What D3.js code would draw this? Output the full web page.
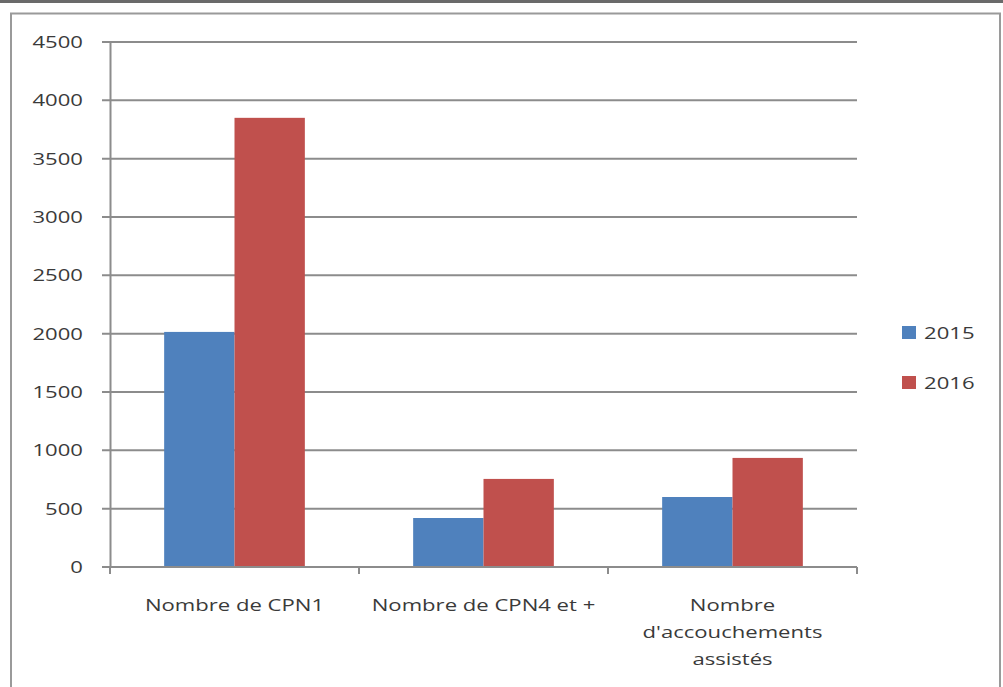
<!DOCTYPE html>
<html><head><meta charset="utf-8">
<script src="https://cdn.jsdelivr.net/npm/d3@7"></script>
<style>body{margin:0;background:#fff}svg{display:block}</style>
</head><body>
<svg id="c" width="1003" height="687"></svg>
<script>
const categories = [["Nombre de CPN1"], ["Nombre de CPN4 et +"], ["Nombre", "d'accouchements", "assistés"]];
const seriesNames = ["2015", "2016"];
const values2015 = [2015, 420, 600];
const values2016 = [3850, 755, 935];
const yTicks = [0, 500, 1000, 1500, 2000, 2500, 3000, 3500, 4000, 4500];

(function () {
const colors = ["#4F81BD", "#C0504D"];
const svg = d3.select("#c");
const font = "'Open Sans', 'DejaVu Sans', sans-serif";
const fs = 17, sx = 1.3, txt = "#3a3a3a";

// frame
svg.append("rect").attr("x",0).attr("y",0).attr("width",1003).attr("height",3).attr("fill","#6a6a6a");
svg.append("rect").attr("x",11).attr("y",13.5).attr("width",989).attr("height",690)
  .attr("fill","none").attr("stroke","#9a9a9a").attr("stroke-width",2);

const pl = 110, pr = 857, pt = 42, pb = 567;
const x = d3.scaleBand().domain(d3.range(categories.length)).range([pl, pr]).paddingInner(0.435).paddingOuter(0.2175);
const y = d3.scaleLinear().domain([0, 4500]).range([pb, pt]);
const xs = d3.scaleBand().domain(seriesNames).range([0, x.bandwidth()]);

// gridlines
svg.append("g").selectAll("line").data(yTicks).join("line")
  .attr("x1", pl - 8).attr("x2", pr).attr("y1", d => y(d)).attr("y2", d => y(d))
  .attr("stroke", "#8c8c8c").attr("stroke-width", 2);

// y axis
const yAxis = d3.axisLeft(y).tickValues(yTicks).tickFormat(d3.format("d")).tickSize(0).tickPadding(27);
const gy = svg.append("g").attr("transform", `translate(${pl},0)`).call(yAxis);
gy.select(".domain").attr("stroke", "#8c8c8c").attr("stroke-width", 2);
gy.selectAll("text").attr("font-family", font).attr("font-size", fs).attr("fill", txt)
  .attr("x", 0).attr("transform", `translate(-27,0) scale(${sx},1)`);

// bars
const g = svg.append("g");
categories.forEach((c, i) => {
  [values2015[i], values2016[i]].forEach((v, k) => {
    g.append("rect")
      .attr("x", x(i) + xs(seriesNames[k]))
      .attr("y", y(v))
      .attr("width", xs.bandwidth())
      .attr("height", y(0) - y(v))
      .attr("fill", colors[k]);
  });
});

// x axis
const step = (pr - pl) / categories.length;
const catTicks = d3.range(categories.length + 1).map(i => pl + i * step);
svg.append("g").selectAll("line").data(catTicks).join("line")
  .attr("x1", d => d).attr("x2", d => d).attr("y1", pb).attr("y2", pb + 7)
  .attr("stroke", "#8c8c8c").attr("stroke-width", 2);
svg.append("line").attr("x1", pl).attr("x2", pr).attr("y1", pb).attr("y2", pb)
  .attr("stroke", "#8c8c8c").attr("stroke-width", 2);

const labels = svg.append("g");
categories.forEach((lines, i) => {
  const cx = x(i) + x.bandwidth() / 2;
  lines.forEach((ln, j) => {
    labels.append("text").attr("text-anchor", "middle")
      .attr("transform", `translate(${cx},${611 + j * 27}) scale(${sx},1)`)
      .attr("font-family", font).attr("font-size", fs).attr("fill", txt).text(ln);
  });
});

// legend
const lg = svg.append("g");
seriesNames.forEach((s, k) => {
  lg.append("rect").attr("x", 902).attr("y", 326 + k * 50).attr("width", 14).attr("height", 13).attr("fill", colors[k]);
  lg.append("text").attr("transform", `translate(924,${339 + k * 50}) scale(${sx},1)`).text(s)
    .attr("font-family", font).attr("font-size", fs).attr("fill", txt);
});
})();
</script>
</body></html>
